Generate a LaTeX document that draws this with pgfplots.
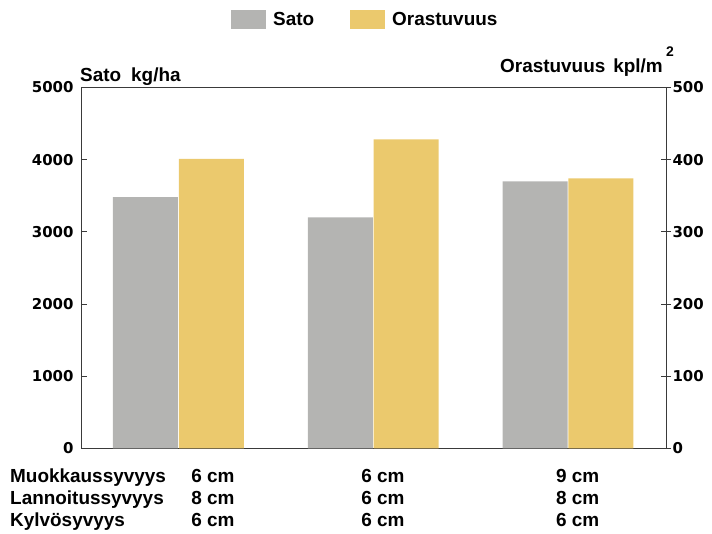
\documentclass[border=0pt]{standalone}
\usepackage{pgfplots}
\pgfplotsset{compat=1.18}
\usepackage{fontspec}
\setmainfont{Liberation Sans}
\newfontfamily\tickfont{DejaVu Sans}
\definecolor{satogray}{HTML}{B4B4B2}
\definecolor{orayellow}{HTML}{EBC96D}
\definecolor{axisline}{HTML}{3A3A3A}
\begin{document}
\begin{tikzpicture}[x=1bp,y=1bp,font=\fontsize{19}{22}\selectfont\bfseries]
\useasboundingbox (0,0) rectangle (712,534);
\pgfplotsset{
  common/.style={
    at={(81bp,85.5bp)}, anchor=south west,
    width=585bp, height=361bp, scale only axis,
    xmin=-0.5, xmax=2.503,
    ybar, bar width=65bp, bar shift=0pt,
    axis line style={axisline, line width=0.9bp},
    tick style={axisline, line width=0.9bp},
    /pgf/number format/assume math mode=true,
    /pgf/number format/set thousands separator={},
    yticklabel style={font=\fontsize{15}{18}\selectfont\tickfont\bfseries},
  }
}
\begin{axis}[common,
  ymin=0, ymax=5000,
  ytick={0,1000,...,5000},
  ytick pos=left,
  major tick length=6bp,
  yticklabel style={xshift=-4bp},
  xtick={0.177,1.05,2.05},
  xticklabels={{6 cm\\8 cm\\6 cm},{6 cm\\6 cm\\6 cm},{9 cm\\8 cm\\6 cm}},
  xticklabel style={align=center, anchor=north, yshift=-11bp,
    font=\fontsize{19}{22}\selectfont\bfseries},
  major x tick style={draw=none},
  legend columns=2,
  legend style={draw=none, fill=none, at={(0.486,1.189)}, anchor=center,
    font=\fontsize{19}{22}\selectfont\bfseries,
    /tikz/every odd column/.append style={column sep=5bp},
    /tikz/every even column/.append style={column sep=34bp}},
  legend image code/.code={\fill[#1] (0bp,-9.5bp) rectangle (35bp,9.5bp);},
]
\addplot[fill=satogray, draw=none] coordinates {(-0.169,3480) (0.831,3200) (1.831,3700)};
\addlegendentry{Sato}
\addlegendimage{fill=orayellow, draw=none}
\addlegendentry{Orastuvuus}
\end{axis}
\begin{axis}[common,
  ymin=0, ymax=500,
  ytick={0,100,...,500},
  axis y line*=right,
  axis x line=none,
  tick align=center,
  major tick length=10bp,
  yticklabel style={xshift=-2bp},
]
\addplot[fill=orayellow, draw=none] coordinates {(0.169,401) (1.169,428) (2.169,374)};
\end{axis}
\node[anchor=base west, inner sep=0pt] at (80,452) {Sato\hspace{10bp}kg/ha};
\node[anchor=base east, inner sep=0pt] at (663,461) {Orastuvuus\hspace{8bp}kpl/m};
\node[anchor=base west, inner sep=0pt] at (666,477) {\fontsize{14}{16}\selectfont 2};
\node[anchor=base west, inner sep=0pt] at (10,51) {Muokkaussyvyys};
\node[anchor=base west, inner sep=0pt] at (10,29) {Lannoitussyvyys};
\node[anchor=base west, inner sep=0pt] at (10,7) {Kylvösyvyys};
\end{tikzpicture}
\end{document}
